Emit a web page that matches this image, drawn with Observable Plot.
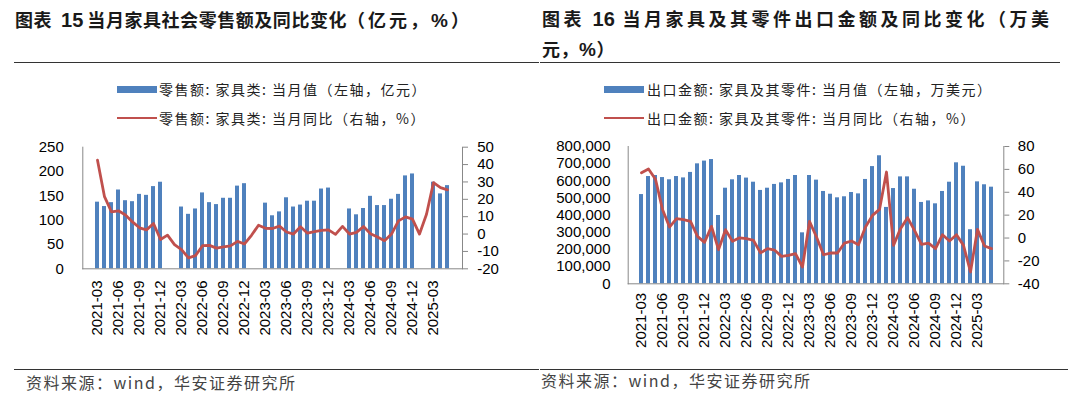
<!DOCTYPE html>
<html><head><meta charset="utf-8">
<script src="https://cdn.jsdelivr.net/npm/d3@7"></script>
<script src="https://cdn.jsdelivr.net/npm/@observablehq/plot@0.6"></script>
<style>
body{margin:0;background:#fff;}
#root{position:relative;width:1080px;height:395px;overflow:hidden;background:#fff;font-family:"Noto Sans CJK SC",sans-serif;}
.abs{position:absolute;white-space:nowrap;}
.title{font-weight:bold;font-size:18px;color:#1a1a1a;line-height:28px;}
.num{font-family:"Liberation Sans",Arial,sans-serif;font-weight:bold;}
.rule{position:absolute;height:0;border-top:1.5px solid #333;}
.leg{font-size:14px;color:#222;letter-spacing:1.5px;line-height:18px;}
.src{font-size:16px;color:#444;letter-spacing:1.5px;line-height:20px;}
.swatch{position:absolute;}
</style></head>
<body>
<div id="root">
  <div class="abs title" style="left:15px;top:5px;letter-spacing:0.55px;">图表<span class="num" style="font-size:20px;margin:0 4px 0 9px;letter-spacing:0;">15</span>当月家具社会零售额及同比变化<span style="letter-spacing:3px;">（亿元，<span class="num" style="font-size:19px;">%</span>）</span></div>
  <div class="abs title" style="left:542px;top:4px;line-height:29px;"><span style="letter-spacing:3.5px;">图表 <span class="num" style="font-size:20px;letter-spacing:0;">16</span> 当月家具及其零件出口金额及同比变化（万美</span><br><span style="letter-spacing:0.5px;">元，<span class="num" style="font-size:19px;">%</span>）</span></div>
  <div class="rule" style="left:14px;top:61.5px;width:525px;"></div>
  <div class="rule" style="left:540px;top:61.5px;width:520px;"></div>

  <div class="swatch" style="left:117px;top:85.5px;width:40px;height:7px;background:#4F81BD;"></div>
  <div class="abs leg" style="left:159px;top:80px;">零售额: 家具类: 当月值（左轴，亿元）</div>
  <div class="swatch" style="left:117px;top:116.5px;width:40px;height:2.5px;background:#C0504D;"></div>
  <div class="abs leg" style="left:159px;top:109px;">零售额: 家具类: 当月同比（右轴，%）</div>

  <div class="swatch" style="left:604px;top:85.5px;width:40px;height:7px;background:#4F81BD;"></div>
  <div class="abs leg" style="left:647px;top:80px;">出口金额: 家具及其零件: 当月值（左轴，万美元）</div>
  <div class="swatch" style="left:604px;top:116.5px;width:40px;height:2.5px;background:#C0504D;"></div>
  <div class="abs leg" style="left:647px;top:109px;">出口金额: 家具及其零件: 当月同比（右轴，%）</div>

  <div id="chartL" class="abs" style="left:0;top:130px;"></div>
  <div id="chartR" class="abs" style="left:540px;top:130px;"></div>

  <div class="rule" style="left:14px;top:369px;width:525px;"></div>
  <div class="rule" style="left:540px;top:369px;width:528px;"></div>
  <div class="abs src" style="left:26px;top:372px;">资料来源：wind，华安证券研究所</div>
  <div class="abs src" style="left:541px;top:370px;">资料来源：wind，华安证券研究所</div>
</div>
<script>
const months = [
  "2021-03","2021-04","2021-05","2021-06","2021-07","2021-08","2021-09","2021-10","2021-11","2021-12",
  "2022-01","2022-02","2022-03","2022-04","2022-05","2022-06","2022-07","2022-08","2022-09","2022-10","2022-11","2022-12",
  "2023-01","2023-02","2023-03","2023-04","2023-05","2023-06","2023-07","2023-08","2023-09","2023-10","2023-11","2023-12",
  "2024-01","2024-02","2024-03","2024-04","2024-05","2024-06","2024-07","2024-08","2024-09","2024-10","2024-11","2024-12",
  "2025-01","2025-02","2025-03","2025-04","2025-05"
];
const xTickLabels = ["2021-03","2021-06","2021-09","2021-12","2022-03","2022-06","2022-09","2022-12",
  "2023-03","2023-06","2023-09","2023-12","2024-03","2024-06","2024-09","2024-12","2025-03"];

// 零售额: 家具类: 当月值 (亿元), Jan/Feb not published
const retailValue = [
  137,128,136,162,140,138,153,151,169,178,
  null,null,127,112,123,156,136,132,145,145,170,175,
  null,null,135,109,117,146,127,131,139,139,164,166,
  null,null,123,111,124,149,130,130,143,153,191,195,
  null,null,178,154,171
];
// 零售额: 家具类: 当月同比 (%)
const retailYoY = [
  42.5,21.5,12.8,13.4,11,7,3.6,2.4,6.1,-3.1,
  -0.6,-6.1,-9,-13.7,-12.4,-6.7,-6.5,-8.1,-7.4,-6.8,-4.2,-5.7,
  -0.7,5.1,3.3,3.2,4.6,1.2,0,4.2,0.5,1.4,2.1,2.4,
  -0.2,4.4,0,1,4.3,0.2,-1.7,-3.8,0,7.6,9.9,8.6,
  0,11.4,29.6,26.7,25.4
];
// 出口金额: 家具及其零件: 当月值 (万美元)
const exportValue = [
  520000,625000,631000,619000,606000,625000,617000,649000,699000,715000,
  724000,398000,557000,606000,631000,616000,592000,544000,557000,579000,588000,608000,
  631000,297000,631000,604000,538000,522000,501000,507000,532000,524000,608000,683000,
  746000,445000,555000,623000,623000,551000,474000,483000,466000,538000,592000,705000,
  685000,315000,594000,577000,563000
];
// 出口金额: 家具及其零件: 当月同比 (%)
const exportYoY = [
  57,60.3,51.4,25,9.6,16.9,16,14.6,1.5,-3.8,
  10.2,-10.2,7.3,-2.9,0.2,-0.6,-2,-13,-9.3,-10.5,-16,-15.1,
  -13.7,-25.3,14.5,0.9,-14.6,-13.1,-13.1,-4.4,-2.6,-5.8,9.6,19.8,
  25,57.7,-6.4,8.2,17.8,6.7,-5.5,-4.4,-9.3,2.9,-2.6,2.9,
  -6.4,-29.7,7.6,-7,-9.3
];
const retailLeftTicks = [0,50,100,150,200,250];
const retailRightTicks = [-20,-10,0,10,20,30,40,50];
const exportLeftTicks = [0,100000,200000,300000,400000,500000,600000,700000,800000];
const exportRightTicks = [-40,-20,0,20,40,60,80];

const BLUE = "#4F81BD", RED = "#C0504D", AXIS = "#888888";

function dualChart(o) {
  const [a, b] = o.yDomain, [c, d] = o.y2Domain;
  const toY = v => a + (v - c) / (d - c) * (b - a);
  const fromY = u => c + (u - a) / (b - a) * (d - c);
  const barData = months.map((m, i) => ({m, v: o.bars[i]})).filter(e => e.v != null);
  const lineData = months.map((m, i) => ({m, v: toY(o.line[i])}));
  return Plot.plot({
    width: o.width, height: o.height,
    marginLeft: o.ml, marginRight: o.mr, marginTop: o.mt, marginBottom: o.mb,
    style: {fontFamily: "'Liberation Sans', Arial, sans-serif", fontSize: o.fontSize + "px", color: "#000", background: "transparent", overflow: "visible"},
    x: {type: "band", domain: months, padding: 0.45, label: null},
    y: {domain: o.yDomain, label: null},
    marks: [
      Plot.barY(barData, {x: "m", y: "v", fill: BLUE}),
      Plot.frame({anchor: "left", stroke: AXIS}),
      Plot.frame({anchor: "right", stroke: AXIS}),
      Plot.frame({anchor: "bottom", stroke: AXIS}),
      Plot.axisY({anchor: "left", ticks: o.yTicks, tickSize: 0, tickPadding: o.yPad, tickFormat: o.yFmt, fill: "#000", label: null}),
      Plot.axisY({anchor: "right", ticks: o.y2Ticks.map(toY), tickSize: 5, tickPadding: o.y2Pad,
        tickFormat: u => String(Math.round(fromY(u))), stroke: AXIS, fill: "#000", label: null}),
      Plot.axisX({ticks: xTickLabels, tickRotate: -90, tickSize: 0, tickPadding: o.xPad, fill: "#000", label: null}),
      Plot.lineY(lineData, {x: "m", y: "v", stroke: RED, strokeWidth: 2.8, strokeLinejoin: "round"})
    ]
  });
}

document.getElementById("chartL").appendChild(dualChart({
  bars: retailValue, line: retailYoY,
  yDomain: [0, 250], y2Domain: [-20, 50], yTicks: retailLeftTicks, y2Ticks: retailRightTicks,
  yFmt: d => String(d),
  width: 540, height: 215, ml: 82.3, mr: 78, mt: 16.7, mb: 76.7,
  fontSize: 15, yPad: 19, y2Pad: 9.7, xPad: 11.7
}));
document.getElementById("chartR").appendChild(dualChart({
  bars: exportValue, line: exportYoY,
  yDomain: [0, 800000], y2Domain: [-40, 80], yTicks: exportLeftTicks, y2Ticks: exportRightTicks,
  yFmt: d3.format(","),
  width: 540, height: 225, ml: 87.7, mr: 76.7, mt: 16, mb: 71.7,
  fontSize: 15, yPad: 17.7, y2Pad: 9, xPad: 9.1
}));
</script>
</body></html>
